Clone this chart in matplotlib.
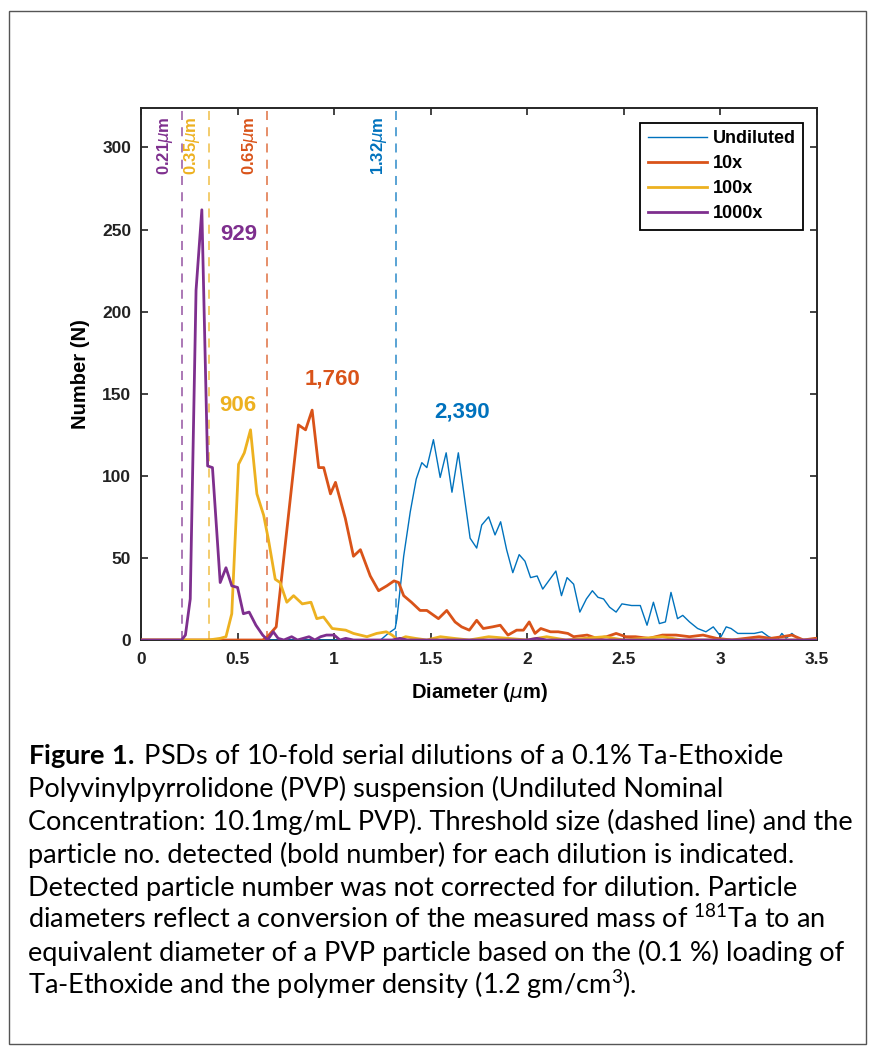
import matplotlib
matplotlib.use("Agg")
import matplotlib.pyplot as plt
from matplotlib.patches import Rectangle

plt.rcParams["font.family"] = ["Liberation Sans", "DejaVu Sans"]
plt.rcParams["mathtext.fontset"] = "custom"
plt.rcParams["mathtext.rm"] = "Lato:weight=normal"
plt.rcParams["mathtext.bf"] = "Lato:weight=bold"
plt.rcParams["mathtext.it"] = "Lato:style=italic"

# ---- data ----
series_names = ["Undiluted", "10x", "100x", "1000x"]
series_colors = ["#0072BD", "#D95319", "#EDB120", "#7E2F8E"]

undiluted_x = [0, 1.24, 1.28, 1.316, 1.325, 1.36, 1.394, 1.425, 1.454, 1.48,
               1.514, 1.549, 1.58, 1.61, 1.643, 1.678, 1.704, 1.738, 1.764, 1.80,
               1.833, 1.862, 1.893, 1.925, 1.958, 1.988, 2.017, 2.051, 2.08, 2.117,
               2.148, 2.177, 2.206, 2.24, 2.272, 2.306, 2.337, 2.366, 2.395, 2.426,
               2.46, 2.49, 2.54, 2.585, 2.62, 2.653, 2.684, 2.715, 2.744, 2.778,
               2.805, 2.84, 2.882, 2.925, 2.963, 3.003, 3.03, 3.055, 3.09, 3.13,
               3.175, 3.215, 3.25, 3.295, 3.318, 3.34, 3.37, 3.40, 3.42, 3.5]
undiluted_y = [0, 0, 4, 7, 13, 51, 78, 98, 108, 105,
               122, 99, 114, 90, 114, 84, 62, 56, 70, 75,
               64, 72, 55, 41, 52, 48, 38, 39, 31, 37,
               42, 27, 38, 34, 17, 25, 30, 26, 25, 20,
               17, 22, 21, 21, 9, 23, 10, 11, 29, 13,
               15, 11, 7, 5, 8, 2, 8, 7, 4, 4,
               4, 5, 2, 0, 4, 1, 4, 1, 0, 0]

x10_x = [0, 0.63, 0.655, 0.70, 0.815, 0.852, 0.886, 0.92, 0.946, 0.981,
         1.007, 1.058, 1.10, 1.136, 1.187, 1.23, 1.273, 1.31, 1.334, 1.36,
         1.40, 1.445, 1.48, 1.54, 1.583, 1.626, 1.66, 1.70, 1.738, 1.772,
         1.82, 1.86, 1.90, 1.945, 1.98, 2.01, 2.04, 2.07, 2.12, 2.16,
         2.21, 2.24, 2.31, 2.36, 2.41, 2.46, 2.51, 2.56, 2.63, 2.70,
         2.77, 2.84, 2.91, 2.98, 3.06, 3.13, 3.20, 3.26, 3.32, 3.37,
         3.43, 3.49, 3.5]
x10_y = [0, 0, 2, 8, 131, 128, 140, 105, 105, 89,
         96, 74, 51, 55, 39, 30, 33, 36, 35, 27,
         23, 18, 18, 13, 18, 11, 8, 6, 12, 7,
         8, 9, 3, 6, 6, 11, 4, 7, 5, 5,
         4, 2, 3, 1, 2, 4, 2, 2, 1, 3,
         3, 2, 3, 1, 0, 1, 2, 1, 2, 3,
         0, 1, 1]

x100_x = [0, 0.35, 0.41, 0.44, 0.47, 0.505, 0.535, 0.567, 0.60, 0.635,
          0.66, 0.695, 0.72, 0.755, 0.79, 0.835, 0.88, 0.91, 0.945, 0.99,
          1.06, 1.10, 1.17, 1.22, 1.27, 1.30, 1.33, 1.37, 1.42, 1.48,
          1.55, 1.62, 1.70, 1.80, 1.90, 2.00, 2.10, 2.20, 2.30, 2.40,
          2.50, 2.60, 2.70, 2.80, 3.5]
x100_y = [0, 0, 1, 2, 16, 107, 114, 128, 89, 76,
          61, 37, 35, 23, 27, 22, 23, 13, 14, 7,
          6, 4, 2, 4, 5, 3, 0, 2, 1, 0,
          2, 1, 0, 2, 1, 0, 2, 0, 1, 2,
          0, 1, 2, 0, 0]

x1000_x = [0, 0.21, 0.23, 0.255, 0.285, 0.315, 0.345, 0.37, 0.41, 0.44,
           0.47, 0.50, 0.53, 0.56, 0.595, 0.63, 0.655, 0.685, 0.71, 0.74,
           0.78, 0.81, 0.84, 0.87, 0.90, 0.93, 0.96, 1.00, 1.03, 1.06,
           1.10, 1.30, 1.34, 1.38, 2.00, 2.05, 2.10, 3.5]
x1000_y = [0, 0, 3, 25, 213, 262, 106, 105, 35, 44,
           33, 32, 16, 17, 9, 3, 0, 5, 1, 0,
           2, 0, 1, 2, 0, 2, 3, 3, 0, 1,
           0, 0, 1, 0, 0, 1, 0, 0]

threshold_values = [1.32, 0.65, 0.35, 0.21]
threshold_labels = ["1.32", "0.65", "0.35", "0.21"]

count_labels = ["2,390", "1,760", "906", "929"]
count_x = [1.66, 0.99, 0.50, 0.505]
count_y = [139, 159, 143, 247]

caption_lines = [
    r"$\mathbf{Figure\ 1.}\;$PSDs of 10-fold serial dilutions of a 0.1% Ta-Ethoxide",
    "Polyvinylpyrrolidone (PVP) suspension (Undiluted Nominal",
    "Concentration: 10.1mg/mL PVP). Threshold size (dashed line) and the",
    "particle no. detected (bold number) for each dilution is indicated.",
    "Detected particle number was not corrected for dilution. Particle",
    r"diameters reflect a conversion of the measured mass of $^{181}$Ta to an",
    "equivalent diameter of a PVP particle based on the (0.1 %) loading of",
    r"Ta-Ethoxide and the polymer density (1.2 gm/cm$^{3}$).",
]

# ---- figure ----
W, H = 874, 1054
fig = plt.figure(figsize=(W / 100, H / 100), dpi=100)
fig.patches.append(Rectangle((9 / W, 1 - 1044 / H), (866 - 9) / W, (1044 - 11) / H,
                             transform=fig.transFigure, fill=False,
                             edgecolor="#555555", linewidth=1.0))

ax = fig.add_axes([141 / W, 1 - 640 / H, (817 - 141) / W, (640 - 108) / H])

series = [(undiluted_x, undiluted_y), (x10_x, x10_y), (x100_x, x100_y), (x1000_x, x1000_y)]
widths = [1.0, 2.0, 2.0, 2.0]
for (xs, ys), name, color, lw in zip(series, series_names, series_colors, widths):
    ax.plot(xs, ys, color=color, linewidth=lw, label=name, zorder=3)

for xv, lab, color in zip(threshold_values, threshold_labels, series_colors):
    ax.axvline(xv, color=color, linestyle=(0, (5, 4)), linewidth=1.3, alpha=0.7, zorder=2)
    ax.annotate(lab + r"$\mu$m", xy=(xv, 319), xytext=(-5, 0), textcoords="offset points",
                rotation=90, ha="right", va="top", color=color, fontsize=12,
                fontweight="bold", math_fontfamily="dejavusans")

for lab, xv, yv, color in zip(count_labels, count_x, count_y, series_colors):
    ax.text(xv, yv, lab, color=color, fontsize=16, fontweight="bold",
            ha="center", va="center")

ax.set_xlim(0, 3.5)
ax.set_ylim(0, 324)
ax.set_xticks([0, 0.5, 1, 1.5, 2, 2.5, 3, 3.5])
ax.set_xticklabels(["0", "0.5", "1", "1.5", "2", "2.5", "3", "3.5"])
ax.set_yticks([0, 50, 100, 150, 200, 250, 300])
ax.tick_params(direction="in", top=True, right=True, length=5, width=1.2,
               labelsize=12.5, colors="#222222", pad=7)
ax.tick_params(axis="x", pad=9)
for lab in ax.get_xticklabels() + ax.get_yticklabels():
    lab.set_fontweight("bold")
for sp in ax.spines.values():
    sp.set_linewidth(1.4)
    sp.set_color("#262626")

ax.set_xlabel(r"Diameter ($\mu$m)", fontsize=14.5, fontweight="bold",
              math_fontfamily="dejavusans", labelpad=10)
ax.set_ylabel("Number (N)", fontsize=14.5, fontweight="bold", labelpad=9)

leg = ax.legend(loc="upper right", bbox_to_anchor=(0.979, 0.972), borderaxespad=0,
                prop={"size": 13, "weight": "bold"}, handlelength=3.3,
                handletextpad=0.3, labelspacing=0.45,
                fancybox=False, framealpha=1, edgecolor="black", borderpad=0.4)
leg.get_frame().set_linewidth(1.3)

y0 = 764
for i, line in enumerate(caption_lines):
    fig.text(28 / W, 1 - (y0 + i * 32.9) / H, line, fontsize=19.5, family="Lato",
             fontweight="normal", ha="left", va="baseline", color="black")

fig.savefig("out.png", dpi=100)
